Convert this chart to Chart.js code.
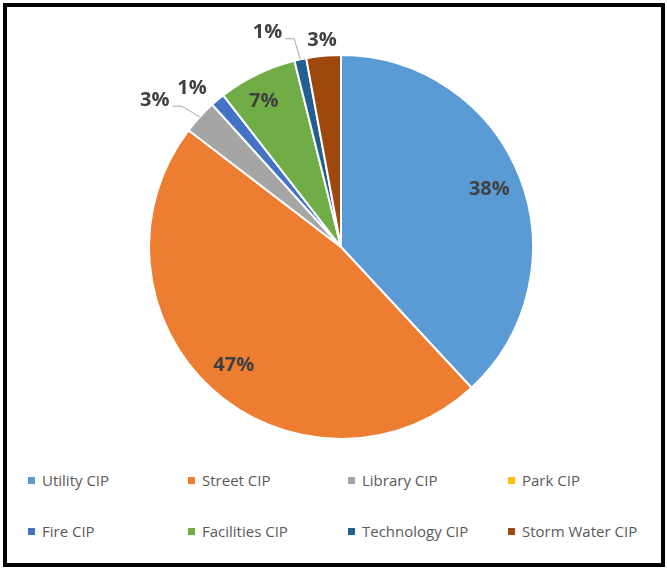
<!DOCTYPE html>
<html>
<head>
<meta charset="utf-8">
<script src="https://cdn.jsdelivr.net/npm/chart.js@4.4.1/dist/chart.umd.min.js"></script>
<style>
  html, body { margin: 0; padding: 0; background: #fff; }
  body { width: 667px; height: 568px; position: relative; overflow: hidden; font-family: "Open Sans", sans-serif; }
  #frame { position: absolute; left: 3px; top: 3px; width: 662px; height: 564px; box-sizing: border-box; border: 4px solid #000; }
  #wrap { position: absolute; left: 0; top: 0; width: 667px; height: 450px; }
  #legend { position: absolute; left: 28px; top: 470px; display: grid; grid-template-columns: repeat(4, 160px); row-gap: 31px; }
  .item { height: 20px; line-height: 20px; font-size: 15px; color: #595959; white-space: nowrap; display: flex; align-items: center; }
  .box { width: 7px; height: 7px; margin-right: 7px; flex: none; }
</style>
</head>
<body>
<div id="frame"></div>
<div id="wrap"><canvas id="cipPie"></canvas></div>
<div id="legend"></div>
<script>
const categories = ['Utility CIP', 'Street CIP', 'Library CIP', 'Park CIP', 'Fire CIP', 'Facilities CIP', 'Technology CIP', 'Storm Water CIP'];
const shares = [38.1, 47.3, 2.9, 0, 1.2, 6.6, 1.0, 2.9];
const colors = ['#5B9BD5', '#ED7D31', '#A5A5A5', '#FFC000', '#4472C4', '#70AD47', '#255E91', '#9E480E'];

// where each percent label sits: inside the slice, or outside with an optional leader line
// r = distance as a fraction of the radius, shift = degrees added to the slice mid angle
const labelPlace = [
  { r: 0.83, shift: 0 },
  { r: 0.83, shift: 0 },
  { r: 1.235, shift: -4.4, leader: true },
  null,
  { r: 1.135, shift: -3.2 },
  { r: 0.86, shift: -2 },
  { r: 1.18, shift: -6.7, leader: true },
  { r: 1.083, shift: 0 }
];

const pctLabels = {
  id: 'pctLabels',
  afterDatasetsDraw(chart) {
    const ctx = chart.ctx;
    const arcs = chart.getDatasetMeta(0).data;
    const total = shares.reduce((a, b) => a + b, 0);
    ctx.save();
    ctx.font = 'bold 20px "Open Sans"';
    ctx.fillStyle = '#404040';
    ctx.textAlign = 'center';
    ctx.textBaseline = 'middle';
    arcs.forEach((arc, i) => {
      const place = labelPlace[i];
      if (!place || !shares[i]) return;
      const { x, y, startAngle, endAngle, outerRadius } = arc.getProps(['x', 'y', 'startAngle', 'endAngle', 'outerRadius'], true);
      const mid = (startAngle + endAngle) / 2;
      const a = mid + place.shift * Math.PI / 180;
      const lx = x + Math.cos(a) * outerRadius * place.r;
      const ly = y + Math.sin(a) * outerRadius * place.r;
      const text = Math.round(shares[i] / total * 100) + '%';
      ctx.fillText(text, lx, ly);
      if (place.leader) {
        const half = ctx.measureText(text).width / 2;
        ctx.strokeStyle = '#A6A6A6';
        ctx.lineWidth = 1;
        ctx.beginPath();
        ctx.moveTo(lx + half + 3, ly + 6);
        ctx.lineTo(lx + half + 12, ly + 6);
        ctx.lineTo(x + Math.cos(mid) * outerRadius, y + Math.sin(mid) * outerRadius);
        ctx.stroke();
      }
    });
    ctx.restore();
  }
};

const chart = new Chart(document.getElementById('cipPie'), {
  type: 'pie',
  data: {
    labels: categories,
    datasets: [{
      data: shares,
      backgroundColor: colors,
      borderColor: '#ffffff',
      borderWidth: 2
    }]
  },
  options: {
    responsive: true,
    maintainAspectRatio: false,
    animation: false,
    layout: { padding: { top: 54, bottom: 10, left: 15, right: 0 } },
    plugins: {
      legend: { display: false },
      tooltip: { enabled: false }
    }
  },
  plugins: [pctLabels]
});

// html legend in four fixed columns, built from the chart's own legend items
const legendEl = document.getElementById('legend');
Chart.overrides.pie.plugins.legend.labels.generateLabels(chart).forEach(item => {
  const div = document.createElement('div');
  div.className = 'item';
  const box = document.createElement('span');
  box.className = 'box';
  box.style.background = item.fillStyle;
  div.appendChild(box);
  div.appendChild(document.createTextNode(item.text));
  legendEl.appendChild(div);
});
</script>
</body>
</html>
